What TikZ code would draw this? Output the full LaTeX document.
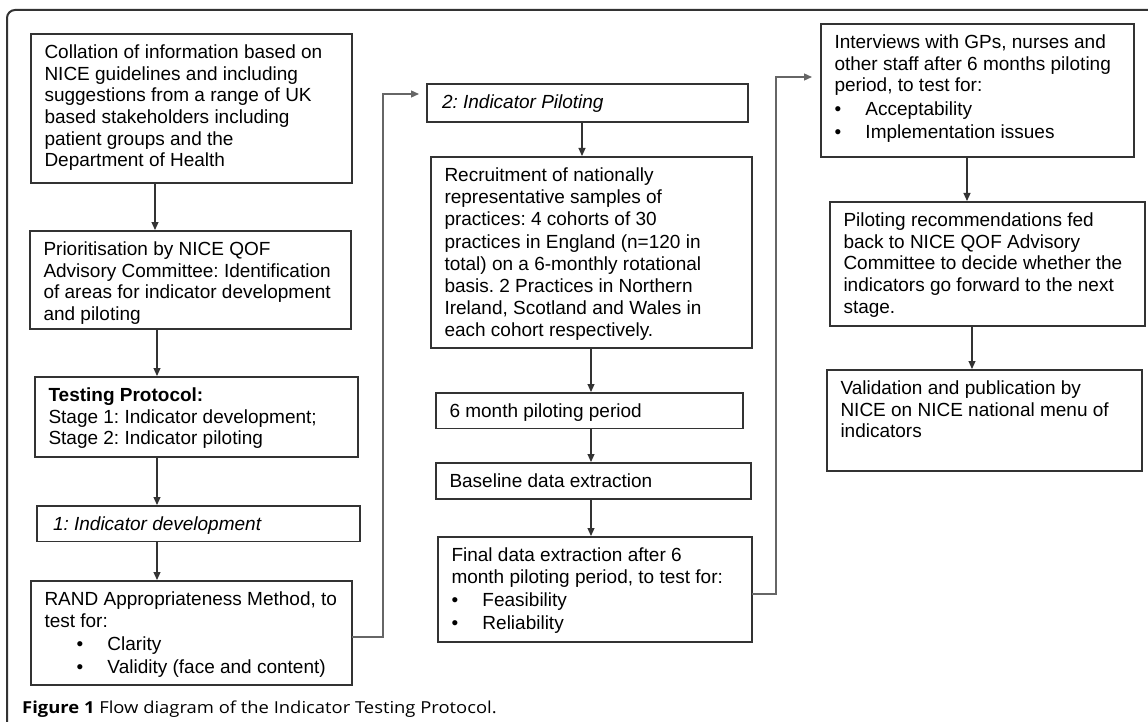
\documentclass[tikz,border=0pt]{standalone}
\usepackage{fontspec}
\setmainfont{Liberation Sans}
\newfontfamily\capfont{Open Sans}
\usetikzlibrary{arrows.meta}
\definecolor{boxcol}{HTML}{333333}
\definecolor{linkcol}{HTML}{666666}
\newdimen\boxpadx \boxpadx=13.5bp
\newdimen\boxpady \boxpady=11bp
\newcommand{\boxfont}{\fontsize{19bp}{21.6bp}\selectfont\frenchspacing\raggedright}
\newcommand{\fbx}[7][]{%
  \node[fbox,#1] (#2) at (#3,#4)
  {\parbox[t][\dimexpr #6bp-#4bp-2\boxpady\relax][t]{\dimexpr #5bp-#3bp-2\boxpadx\relax}{\boxfont #7}};}
\newcommand{\bitem}[2][0bp]{\\[1.6bp]\hspace*{#1}\makebox[31bp][l]{\textbullet}#2}
\tikzset{
  fbox/.style={draw=boxcol, line width=1.2bp, anchor=north west, inner xsep=\boxpadx, inner ysep=\boxpady, outer sep=0pt},
  arr/.style={draw=boxcol, line width=1.1bp, -{Triangle[length=8bp,width=7bp]}, shorten >=1bp},
  elbow/.style={draw=linkcol, line width=1.3bp, -{Triangle[length=8bp,width=7bp]}}
}
\begin{document}
\begin{tikzpicture}[x=1bp,y=-1bp]
\fill[white] (0,0) rectangle (1148,722);
\useasboundingbox (0,0) rectangle (1148,722);
% outer frame
\draw[line width=2bp, draw=black!80, rounded corners=8bp] (7,722) -- (7,10) -- (1148,10);
% left column
\fbx{b1}{31}{34}{352}{183}{Collation of information based on\\NICE guidelines and including\\suggestions from a range of UK\\based stakeholders including\\patient groups and the\\Department of Health}
\fbx{b2}{30}{231}{351}{329}{Prioritisation by NICE QOF\\Advisory Committee: Identification\\of areas for indicator development\\and piloting}
\fbx{b3}{35}{377}{358}{457}{\textbf{Testing Protocol:}\\Stage 1: Indicator development;\\Stage 2: Indicator piloting}
\fbx{b4}{37}{506}{360}{541}{\hspace*{2.5bp}\textit{1: Indicator development}}
\fbx{b5}{31}{581}{352}{685}{RAND Appropriateness Method, to\\test for:\bitem[32bp]{Clarity}\bitem[32bp]{Validity (face and content)}}
% middle column
\fbx{p1}{427}{84}{748}{122}{\hspace*{1.5bp}\textit{2: Indicator Piloting}}
\fbx{p2}{431}{157}{752}{348}{\fontsize{19bp}{22.1bp}\selectfont Recruitment of nationally\\representative samples of\\practices: 4 cohorts of 30\\practices in England (n=120 in\\total) on a 6-monthly rotational\\basis. 2 Practices in Northern\\Ireland, Scotland and Wales in\\each cohort respectively.}
\fbx{p3}{436}{393}{743}{428}{6 month piloting period}
\fbx{p4}{436}{463}{751}{499}{Baseline data extraction}
\fbx{p5}{438}{537}{752}{642}{Final data extraction after 6\\month piloting period, to test for:\bitem{Feasibility}\bitem{Reliability}}
% right column
\fbx{r1}{821}{24}{1134}{157}{Interviews with GPs, nurses and\\other staff after 6 months piloting\\period, to test for:\bitem{Acceptability}\bitem{Implementation issues}}
\fbx{r2}{830}{202}{1145}{326}{Piloting recommendations fed\\back to NICE QOF Advisory\\Committee to decide whether the\\indicators go forward to the next\\stage.}
\fbx{r3}{827}{370}{1142}{471}{Validation and publication by\\NICE on NICE national menu of\\indicators}
% arrow columns
\coordinate (x1) at (155,0);
\coordinate (x2) at (157,0);
\coordinate (x3) at (582,0);
\coordinate (x4) at (591,0);
\coordinate (x5) at (967,0);
\coordinate (x6) at (972,0);
\draw[arr] (b1.south -| x1) -- (b2.north -| x1);
\draw[arr] (b2.south -| x2) -- (b3.north -| x2);
\draw[arr] (b3.south -| x2) -- (b4.north -| x2);
\draw[arr] (b4.south -| x2) -- (b5.north -| x2);
\draw[arr] (p1.south -| x3) -- (p2.north -| x3);
\draw[arr] (p2.south -| x4) -- (p3.north -| x4);
\draw[arr] (p3.south -| x4) -- (p4.north -| x4);
\draw[arr] (p4.south -| x4) -- (p5.north -| x4);
\draw[arr] (r1.south -| x5) -- (r2.north -| x5);
\draw[arr] (r2.south -| x6) -- (r3.north -| x6);
% elbow connectors
\coordinate (k1) at (383,637);
\coordinate (k2) at (383,94);
\coordinate (k3) at (776,594);
\coordinate (k4) at (776,77);
\draw[elbow, shorten >=8bp] (b5.east |- k1) -- (k1) -- (k2) -- (p1.west |- k2);
\draw[elbow, shorten >=9bp] (p5.east |- k3) -- (k3) -- (k4) -- (r1.west |- k4);
% caption
\node[anchor=base west, inner sep=0pt] (cap) at (22,713) {\scalebox{1.115}[1]{\capfont\fontsize{16.5bp}{19bp}\selectfont\textbf{Figure 1} Flow diagram of the Indicator Testing Protocol.}};
\end{tikzpicture}
\end{document}
